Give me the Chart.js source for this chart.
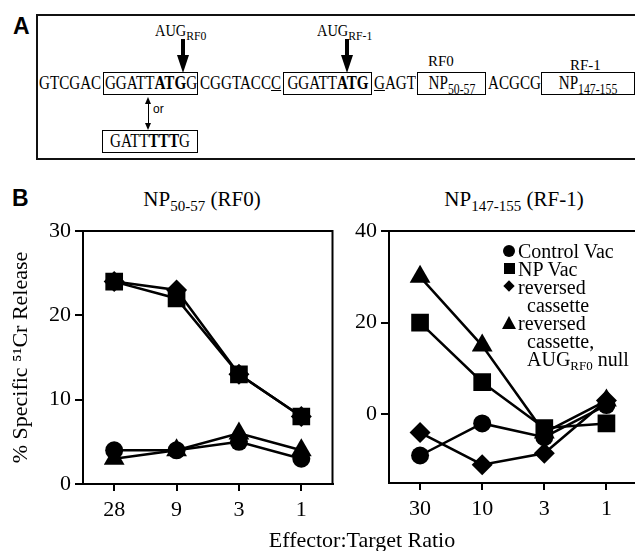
<!DOCTYPE html>
<html>
<head>
<meta charset="utf-8">
<script src="https://cdn.jsdelivr.net/npm/chart.js@4.4.0/dist/chart.umd.min.js"></script>
<style>
  html, body { margin: 0; padding: 0; background: #fff; }
  body { width: 635px; height: 551px; position: relative; overflow: hidden; color: #000;
         font-family: 'Liberation Serif', 'Times New Roman', serif; }
  .abs { position: absolute; white-space: nowrap; }
  .panel { font: bold 23px 'Liberation Sans', Arial, sans-serif; line-height: 23px; }
  .frame { position: absolute; left: 36px; top: 14px; width: 620px; height: 146px;
           border: 2px solid #111; box-sizing: border-box; }
  .seq { position: absolute; top: 72px; height: 23px; line-height: 23px; font-size: 18px; white-space: nowrap;
         font-family: 'Liberation Serif', 'Times New Roman', serif; }
  .seq .t { display: inline-block; transform: scaleX(0.84); transform-origin: 0 50%; }
  .box { border: 1.5px solid #000; box-sizing: border-box; line-height: 20px; height: 23px; }
  .box .t { position: absolute; left: 50%; top: 0; line-height: 20px;
            transform: translateX(-50%) scaleX(0.84); transform-origin: 50% 50%; }
  .seq sub { font-size: 14px; line-height: 0; vertical-align: -5px; }
  .aug { font-size: 16px; line-height: 16px; }
  .aug .t { display: inline-block; transform: scaleX(0.9); transform-origin: 0 50%; }
  .aug sub { font-size: 13px; line-height: 0; vertical-align: -4px; }
  .rf { font-size: 15px; line-height: 15px; }
  .shaft { position: absolute; background: #000; }
  .head-down { position: absolute; width: 0; height: 0; border-left: 6.5px solid transparent;
               border-right: 6.5px solid transparent; border-top: 18px solid #000; }
  .title { position: absolute; width: 300px; text-align: center; font-size: 21px; line-height: 25px; }
  .title sub { font-size: 15px; line-height: 0; vertical-align: -5px; }
  .xtitle { position: absolute; left: 162px; width: 400px; top: 527px; text-align: center;
            font-size: 22px; line-height: 26px; }
  .leg { position: absolute; font-size: 20px; line-height: 18px; height: 18px; white-space: nowrap; }
  .leg sub { font-size: 13px; line-height: 0; vertical-align: -4px; }
  .mk { position: absolute; background: #000; }
  canvas { position: absolute; }
</style>
</head>
<body>

<!-- Panel A: the sequence diagram -->
<div class="abs panel" style="left:13px; top:15px;">A</div>
<div class="frame"></div>

<div class="abs aug" style="left:155px; top:23px;"><span class="t">AUG<sub>RF0</sub></span></div>
<div class="abs aug" style="left:317px; top:23px;"><span class="t">AUG<sub>RF-1</sub></span></div>
<div class="shaft" style="left:181px; top:39px; width:4px; height:17px;"></div>
<div class="head-down" style="left:176.5px; top:55px;"></div>
<div class="shaft" style="left:345px; top:39px; width:4px; height:17px;"></div>
<div class="head-down" style="left:340.5px; top:55px;"></div>

<div class="abs rf" style="left:428px; top:54px;">RF0</div>
<div class="abs rf" style="left:570px; top:58px;">RF-1</div>

<div class="seq" style="left:39px;"><span class="t">GTCGAC</span></div>
<div class="seq box" style="left:103px; width:95px;"><span class="t">GGATT<b>ATG</b>G</span></div>
<div class="seq" style="left:200px;"><span class="t">CGGTACC<u>C</u></span></div>
<div class="seq box" style="left:283px; width:89px;"><span class="t">GGATT<b>ATG</b></span></div>
<div class="seq" style="left:374px;"><span class="t"><u>G</u>AGT</span></div>
<div class="seq box" style="left:417px; width:69px;"><span class="t">NP<sub>50-57</sub></span></div>
<div class="seq" style="left:488px;"><span class="t">ACGCG</span></div>
<div class="seq box" style="left:541px; width:94px;"><span class="t">NP<sub>147-155</sub></span></div>

<!-- "or" double arrow -->
<div class="shaft" style="left:147.5px; top:100px; width:1.5px; height:27px;"></div>
<div class="abs" style="left:145px; top:97px; width:0; height:0; border-left:3.5px solid transparent; border-right:3.5px solid transparent; border-bottom:7px solid #000;"></div>
<div class="abs" style="left:145px; top:123px; width:0; height:0; border-left:3.5px solid transparent; border-right:3.5px solid transparent; border-top:7px solid #000;"></div>
<div class="abs" style="left:153px; top:102px; font:12px 'Liberation Sans', Arial, sans-serif;">or</div>
<div class="seq box" style="left:102px; top:130px; width:96px;"><span class="t">GATT<b>TTT</b>G</span></div>

<!-- Panel B -->
<div class="abs panel" style="left:12px; top:187px;">B</div>
<div class="title" style="left:52px; top:187px;">NP<sub>50-57</sub> (RF0)</div>
<div class="title" style="left:364px; top:187px;">NP<sub>147-155</sub> (RF-1)</div>

<canvas id="chartRF0" width="345" height="371" style="left:0px; top:180px;"></canvas>
<canvas id="chartRF1" width="310" height="371" style="left:340px; top:180px;"></canvas>

<div class="xtitle">Effector:Target Ratio</div>

<!-- legend of the right plot -->
<div class="mk" style="left:503px; top:245px; width:12px; height:12px; border-radius:50%;"></div>
<div class="leg" style="left:518px; top:242px;">Control Vac</div>
<div class="mk" style="left:504px; top:263px; width:11px; height:11px;"></div>
<div class="leg" style="left:518px; top:260px;">NP Vac</div>
<div class="mk" style="left:505px; top:282px; width:8px; height:8px; transform:rotate(45deg);"></div>
<div class="leg" style="left:518px; top:278px;">reversed</div>
<div class="leg" style="left:527px; top:296px;">cassette</div>
<div class="abs" style="left:502px; top:316px; width:0; height:0; border-left:7.5px solid transparent; border-right:7.5px solid transparent; border-bottom:13px solid #000;"></div>
<div class="leg" style="left:518px; top:314px;">reversed</div>
<div class="leg" style="left:527px; top:332px;">cassette,</div>
<div class="leg" style="left:527px; top:350px;">AUG<sub>RF0</sub> null</div>

<script>
/* Data (% specific 51Cr release) */
const ratiosRF0 = ['28', '9', '3', '1'];
const ratiosRF1 = ['30', '10', '3', '1'];

const controlVacRF0 = [4, 4, 5, 3];
const npVacRF0 = [24, 22, 13, 8];
const reversedRF0 = [24, 23, 13, 8];
const nullRF0 = [3, 4, 6, 4];

const controlVacRF1 = [-9, -2, -5, 2];
const npVacRF1 = [20, 7, -3, -2];
const reversedRF1 = [-4, -11, -8.5, 3];
const nullRF1 = [30, 15, -4, 3];

const yTicksRF0 = [0, 10, 20, 30];
const yTicksRF1 = [0, 20, 40];

const serif = "'Liberation Serif', 'Times New Roman', serif";

// box round the plot area
const frameBox = {
  id: 'frameBox',
  afterDraw(chart) {
    const ctx = chart.ctx;
    const a = chart.chartArea;
    ctx.save();
    ctx.lineWidth = 2;
    ctx.strokeStyle = '#000';
    ctx.strokeRect(a.left, a.top, a.right - a.left, a.bottom - a.top);
    ctx.restore();
  }
};

function series(data, style, radius) {
  return {
    data: data,
    pointStyle: style,
    pointRadius: radius,
    pointHoverRadius: radius,
    borderColor: '#000',
    backgroundColor: '#000',
    pointBackgroundColor: '#000',
    pointBorderColor: '#000',
    pointBorderWidth: 0,
    borderWidth: 2.5,
    fill: false,
    tension: 0
  };
}

function makeChart(canvasId, labels, sets, yMin, yMax, yTicks, yWidth, xHeight, yTitle) {
  const ctx = document.getElementById(canvasId).getContext('2d');
  return new Chart(ctx, {
    type: 'line',
    data: { labels: labels, datasets: sets },
    options: {
      responsive: false,
      animation: false,
      devicePixelRatio: 1,
      layout: { padding: { left: 0, right: 7, top: 51, bottom: 0 } },
      plugins: { legend: { display: false }, tooltip: { enabled: false } },
      scales: {
        x: {
          type: 'category',
          offset: true,
          grid: { drawOnChartArea: false, drawTicks: true, tickLength: 7, color: '#000', lineWidth: 2 },
          border: { display: true, color: '#000', width: 2 },
          ticks: { color: '#000', font: { family: serif, size: 22 }, padding: 6, maxRotation: 0 },
          afterFit: function (scale) { scale.height = xHeight; }
        },
        y: {
          min: yMin,
          max: yMax,
          grid: { drawOnChartArea: false, drawTicks: true, tickLength: 8, color: '#000', lineWidth: 2 },
          border: { display: true, color: '#000', width: 2 },
          ticks: { color: '#000', font: { family: serif, size: 22 }, padding: 4 },
          afterBuildTicks: function (scale) {
            scale.ticks = yTicks.map(v => ({ value: v }));
          },
          afterFit: function (scale) { scale.width = yWidth; },
          title: {
            display: !!yTitle,
            text: yTitle || '',
            color: '#000',
            font: { family: serif, size: 22 },
            padding: { top: 8, bottom: 0 }
          }
        }
      }
    },
    plugins: [frameBox]
  });
}

// Charts
const chartRF0 = makeChart('chartRF0', ratiosRF0, [
  series(controlVacRF0, 'circle', 9),
  series(npVacRF0, 'rect', 12.5),
  series(reversedRF0, 'rectRot', 10.5),
  series(nullRF0, 'triangle', 12)
], 0, 30, yTicksRF0, 83, 67, '% Specific \u2075\u00b9Cr Release');

const chartRF1 = makeChart('chartRF1', ratiosRF1, [
  series(controlVacRF1, 'circle', 9),
  series(npVacRF1, 'rect', 12.5),
  series(reversedRF1, 'rectRot', 10.5),
  series(nullRF1, 'triangle', 12)
], -15, 40, yTicksRF1, 49, 68, null);
</script>
</body>
</html>
